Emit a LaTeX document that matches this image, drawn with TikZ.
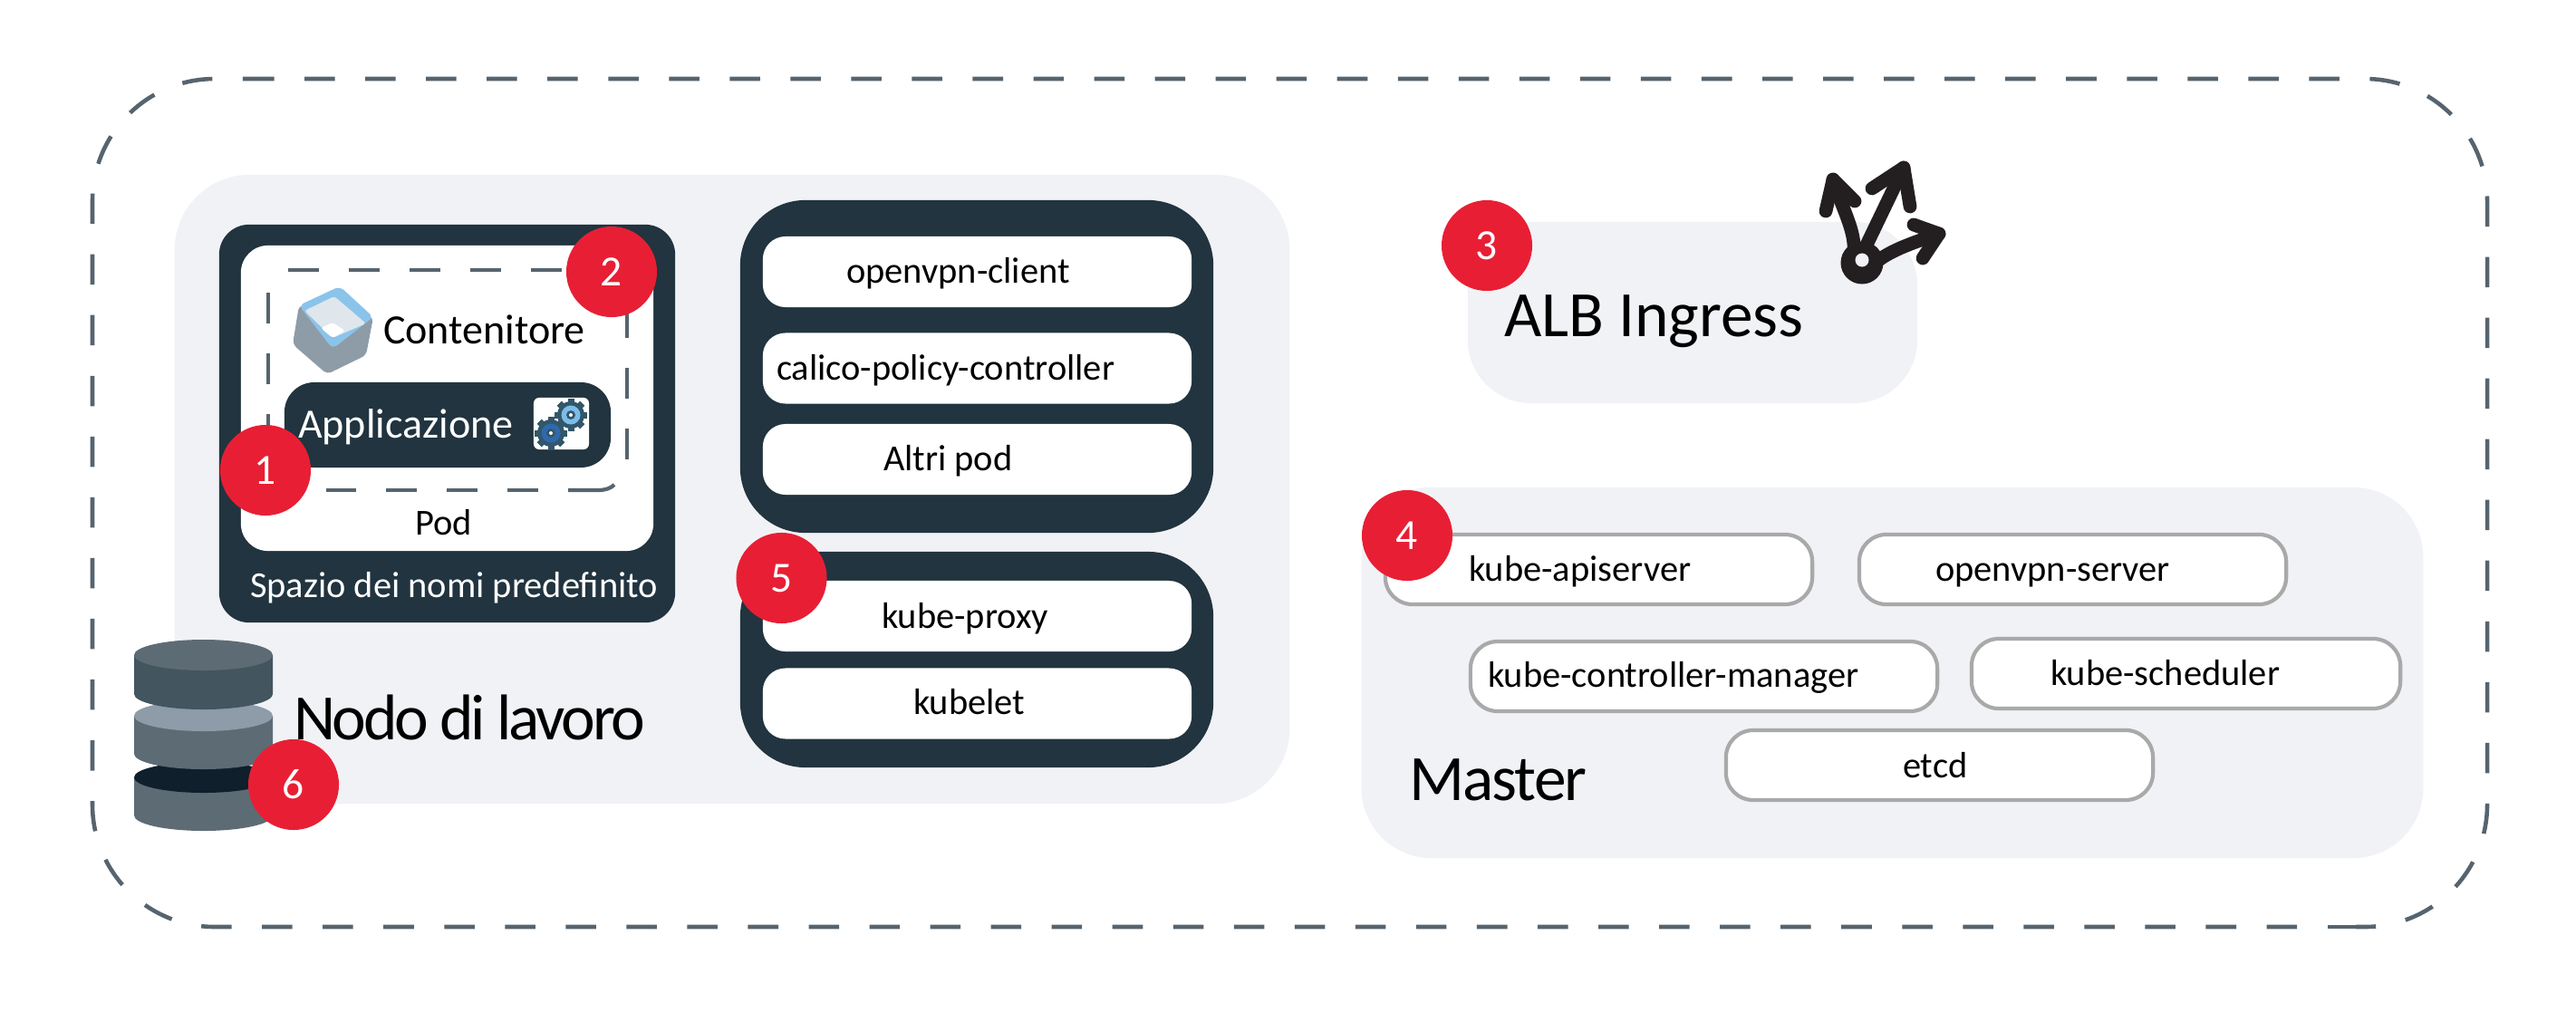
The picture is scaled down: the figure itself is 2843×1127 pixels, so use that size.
\documentclass[tikz,border=0pt]{standalone}
\usepackage{fontspec}
\setmainfont{Carlito}
\usetikzlibrary{calc, positioning}
\definecolor{panelgrey}{HTML}{F1F2F6}
\definecolor{darkslate}{HTML}{21343F}
\definecolor{dashgrey}{HTML}{56646F}
\definecolor{badgered}{HTML}{E81F34}
\definecolor{pillgrey}{HTML}{A9A9A9}
\definecolor{inkblack}{HTML}{231F20}
\tikzstyle{frame} = [draw=dashgrey, line width=1.3pt, dash pattern=on 0.335cm off 0.335cm]
\tikzstyle{panel} = [rectangle, fill=panelgrey, inner sep=0pt, outer sep=0pt]
\tikzstyle{darkbox} = [rectangle, fill=darkslate, inner sep=0pt, outer sep=0pt]
\tikzstyle{rowbox} = [rectangle, fill=white, minimum width=4.73cm, minimum height=0.78cm, rounded corners=0.25cm, inner sep=0pt, outer sep=0pt]
\tikzstyle{pillbox} = [rectangle, fill=white, draw=pillgrey, line width=1.2pt, minimum width=4.71cm, minimum height=0.77cm, rounded corners=0.3cm, inner sep=0pt, outer sep=0pt]
\tikzstyle{badge} = [circle, fill=badgered, text=white, minimum size=1cm, inner sep=0pt, font=\fontsize{13.5}{16}\selectfont]
\tikzstyle{lbl} = [anchor=base west, inner sep=0pt, outer sep=0pt, xshift=-0.02cm, yshift=-0.015cm, font=\fontsize{11.5}{14}\selectfont]
\tikzstyle{midlbl} = [lbl, font=\fontsize{13.1}{16}\selectfont]
\tikzstyle{biglbl} = [lbl, font=\fontsize{20.3}{25}\selectfont]
\tikzstyle{iconline} = [inkblack, line width=4.2pt, line cap=round, line join=round]
\newcommand{\dbdisk}[4]{%
    \fill [#4] (148,#1) -- (148,#2) arc [start angle=180, end angle=360, x radius=0.765cm, y radius=0.17cm] -- (301,#1) -- cycle;
    \fill [#3] (224.5,#1) ellipse [x radius=0.765cm, y radius=0.17cm];
}
\newcommand{\cogwheel}[2]{%
    \foreach \ang in {0,45,...,315} {
        \fill [cogdark, rotate around={\ang:(#1)}] ($(#1)+(-3.5,-18)$) rectangle ($(#1)+(3.5,18)$);
    }
    \fill [cogdark] (#1) circle [radius=0.15cm];
    \fill [#2] (#1) circle [radius=0.105cm];
    \fill [cogdark] (#1) circle [radius=0.05cm];
    \fill [white] (#1) circle [radius=0.02cm];
}
\definecolor{cogdark}{HTML}{32576A}
\definecolor{coglight}{HTML}{7CBCEA}
\definecolor{cogblue}{HTML}{2F69AD}
\definecolor{cubebody}{HTML}{8E9CA8}
\definecolor{cuberim}{HTML}{8AC4EA}
\definecolor{cubefloor}{HTML}{DFE6EC}
\definecolor{diskA}{HTML}{5D6B75}
\definecolor{diskB}{HTML}{43555F}
\definecolor{diskC}{HTML}{8D9CA8}
\definecolor{diskD}{HTML}{0F1F2C}

\begin{document}
\begin{tikzpicture}[x=0.01cm, y=-0.01cm]
    \useasboundingbox (0,0) rectangle (2843,1127);

    % Outer dashed frame
    \draw [frame, rounded corners=1.35cm] (269,87) -- (2745,87) -- (2745,1023) -- (2600,1023)
        (2535,1023) -- (102,1023) -- (102,87) -- (269,87);
    \draw [frame, solid] (2620,1023) -- (2569,1023);

    % Worker panel
    \node (worker) [panel, minimum width=12.3cm, minimum height=6.94cm, rounded corners=0.83cm] at (808,540) {};
    \node (namespace) [darkbox, minimum width=5.03cm, minimum height=4.39cm, rounded corners=0.33cm] at (493.5,467.5) {};
    \node (pod) [rectangle, fill=white, minimum width=4.55cm, minimum height=3.37cm, rounded corners=0.3cm, inner sep=0pt] at (493.5,439.5) {};

    % Pod dashed frame
    \draw [frame, line width=1.2pt] (318,298) -- (660,298)
        (692,339) -- (692,507)
        (594,541) -- (360,541)
        (296,491) -- (296,323);
    \draw [frame, line width=1.2pt, solid] (627,541) -- (660,541) .. controls (668,541) and (674,539) .. (678,535);

    % Container cube
    \fill [cubebody, rounded corners=0.05cm] (330,337) -- (412,350) -- (404,392) -- (361,413) -- (323,380) -- cycle;
    \fill [cuberim, rounded corners=0.06cm] (375,316) -- (412,350) -- (367,385) -- (330,337) -- cycle;
    \fill [cubefloor, rounded corners=0.03cm] (369,327) -- (404,357) -- (367,373) -- (336,343) -- cycle;
    \fill [white, rounded corners=0.03cm] (354,362) -- (367,356) -- (381,365) -- (367,373) -- cycle;
    \node (container) [midlbl] at (425,378) {Contenitore};

    % Application box
    \node (app) [darkbox, minimum width=3.6cm, minimum height=0.94cm, rounded corners=0.33cm] at (494,469) {};
    \node (applabel) [midlbl, text=white] at (331,482) {Applicazione};
    \node (geartile) [rectangle, fill=white, minimum width=0.61cm, minimum height=0.57cm, rounded corners=0.06cm, inner sep=0pt] at (619.5,467.5) {};
    \cogwheel{630,458}{coglight}
    \cogwheel{608,478}{cogblue}

    \node (podlabel) [lbl] at (460,589) {Pod};
    \node (nslabel) [lbl, text=white] at (278,658) {Spazio dei nomi predefinito};

    % System pods
    \node (syspods) [darkbox, minimum width=5.22cm, minimum height=3.67cm, rounded corners=0.72cm] at (1078,404.5) {};
    \node (client) [rowbox] at (1078.5,300) {};
    \node (calico) [rowbox] at (1078.5,406.5) {};
    \node (others) [rowbox] at (1078.5,507) {};
    \node (clientlabel) [lbl] at (936,311) {openvpn-client};
    \node (calicolabel) [lbl] at (859,418) {calico-policy-controller};
    \node (otherslabel) [lbl] at (977,518) {Altri pod};

    % Node components
    \node (nodepods) [darkbox, minimum width=5.22cm, minimum height=2.38cm, rounded corners=0.72cm] at (1078,728) {};
    \node (proxy) [rowbox] at (1078.5,680) {};
    \node (kubelet) [rowbox] at (1078.5,776.5) {};
    \node (proxylabel) [lbl] at (975,692) {kube-proxy};
    \node (kubeletlabel) [lbl] at (1010,787) {kubelet};

    % Disk stack
    \dbdisk{858}{900}{diskD}{diskA}
    \dbdisk{790}{832}{diskC}{diskA}
    \dbdisk{723}{766}{diskA}{diskB}
    \node (workerlabel) [biglbl] at (326,815) {\addfontfeature{LetterSpace=-4.7}Nodo di lavoro};

    % ALB Ingress
    \node (alb) [panel, minimum width=4.96cm, minimum height=2cm, rounded corners=0.7cm] at (1868,345) {};
    \node (alblabel) [biglbl] at (1662,370) {ALB Ingress};
    \fill [inkblack] (2055,290) circle [radius=0.235cm];
    \draw [iconline] (2046,280) .. controls (2048,255) and (2035,235) .. (2023,198);
    \draw [iconline] (2015,233) -- (2023,198) -- (2047,222);
    \draw [iconline] (2052,287) -- (2101,185);
    \draw [iconline] (2066,208) -- (2101,185) -- (2108,228);
    \draw [iconline] (2060,300) .. controls (2075,280) and (2105,270) .. (2140,258);
    \draw [iconline] (2112,248) -- (2140,258) -- (2122,285);
    \fill [panelgrey] (2055,287) circle [radius=0.075cm];

    % Master panel
    \node (master) [panel, minimum width=11.71cm, minimum height=4.09cm, rounded corners=0.77cm] at (2088.5,742.5) {};
    \node (apiserver) [pillbox] at (1764.5,628.5) {};
    \node (vpnserver) [pillbox] at (2287.5,628.5) {};
    \node (ctrlmanager) [pillbox, minimum width=5.15cm] at (1880.5,746.5) {};
    \node (scheduler) [pillbox, minimum width=4.73cm] at (2412.5,743.5) {};
    \node (etcd) [pillbox] at (2140.5,844.5) {};
    \node (apilabel) [lbl] at (1623,640) {kube-apiserver};
    \node (vpnlabel) [lbl] at (2138,640) {openvpn-server};
    \node (ctrllabel) [lbl] at (1644,757) {kube-controller-manager};
    \node (schedlabel) [lbl] at (2265,755) {kube-scheduler};
    \node (etcdlabel) [lbl] at (2102,857) {etcd};
    \node (masterlabel) [biglbl] at (1557,882) {\addfontfeature{LetterSpace=-2.6}Master};

    % Numbered badges
    \node (one) [badge] at (293,519) {1};
    \node (two) [badge] at (675,300) {2};
    \node (three) [badge] at (1641,271) {3};
    \node (four) [badge] at (1553,591) {4};
    \node (five) [badge] at (862.5,638) {5};
    \node (six) [badge] at (324,866) {6};

\end{tikzpicture}
\end{document}
